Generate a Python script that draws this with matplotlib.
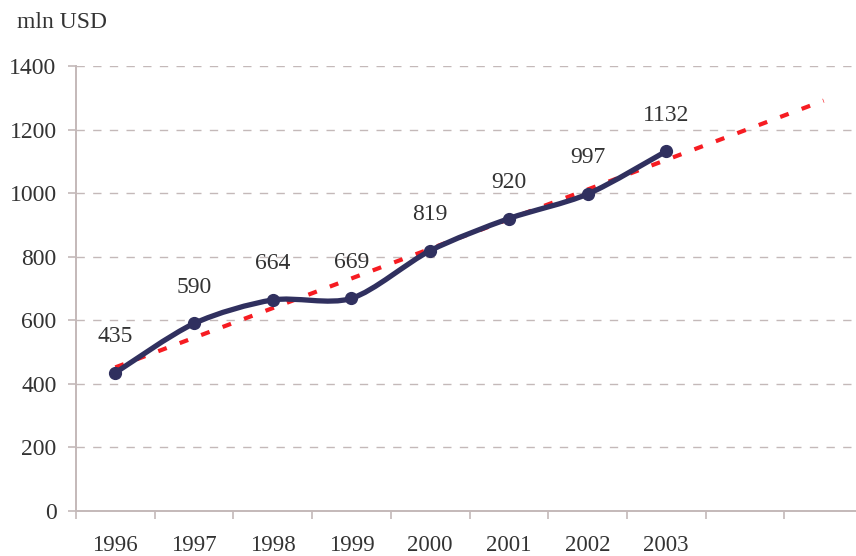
import numpy as np
import matplotlib
matplotlib.use('Agg')
import matplotlib.pyplot as plt
from matplotlib.path import Path
from matplotlib.patches import PathPatch
from matplotlib.ticker import FixedLocator, NullFormatter

years = ["1996", "1997", "1998", "1999", "2000", "2001", "2002", "2003"]
values = [435, 590, 664, 669, 819, 920, 997, 1132]
forecast_periods = 2  # trend goes on for two more (unlabelled) categories
y_ticks = [0, 200, 400, 600, 800, 1000, 1200, 1400]
unit_label = "mln USD"

navy = "#30305f"
red = "#f61c22"
grid_col = "#c4b9b9"
text_col = "#333333"

plt.rcParams['font.family'] = ['Liberation Serif', 'DejaVu Serif']
plt.rcParams['lines.scale_dashes'] = False

fig = plt.figure(figsize=(8.56, 5.56), dpi=100)
ax = fig.add_axes([76 / 856, 45 / 556, 787 / 856, 445 / 556])

n_cat = len(years) + forecast_periods
x = np.arange(len(years))

# linear trend line (like the spreadsheet trendline), extended forward
slope, icpt = np.polyfit(x, values, 1)
xt = np.arange(n_cat)
ax.plot([xt[0], xt[-1]], [icpt, icpt + slope * xt[-1]], color=red, lw=3.0,
        dashes=(6.5, 10.0), solid_capstyle='butt', dash_capstyle='butt', zorder=3)

# smoothed series line (bezier through the points)
pts = np.column_stack([x, values]).astype(float)
verts = [pts[0]]
codes = [Path.MOVETO]
for i in range(len(pts) - 1):
    p_prev = pts[max(i - 1, 0)]
    p0 = pts[i]
    p1 = pts[i + 1]
    p_next = pts[min(i + 2, len(pts) - 1)]
    c1 = p0 + (p1 - p_prev) / 7
    c2 = p1 - (p_next - p0) / 7
    verts += [c1, c2, p1]
    codes += [Path.CURVE4] * 3
ax.add_patch(PathPatch(Path(verts, codes), facecolor='none', edgecolor=navy,
                       lw=3.8, capstyle='round', joinstyle='round', zorder=4))
ax.plot(x, values, 'o', color=navy, ms=8.5, zorder=5)

for xi, v in zip(x, values):
    ax.annotate(str(v), (xi, v), xytext=(0, 26), textcoords='offset points',
                ha='center', va='center', fontsize=17, color=text_col)

ax.set_xlim(-0.5, n_cat - 0.5)
ax.set_ylim(0, 1400)
ax.set_yticks(y_ticks)
ax.set_yticklabels([str(t) for t in y_ticks])
ax.yaxis.grid(True, color=grid_col, lw=1.0, dashes=(6, 6))
ax.set_axisbelow(True)

ax.set_xticks(x)
ax.set_xticklabels(years)
ax.xaxis.set_minor_locator(FixedLocator(np.arange(n_cat + 1) - 0.5))
ax.xaxis.set_minor_formatter(NullFormatter())
ax.tick_params(axis='x', which='major', length=0, pad=17, labelsize=16.5, labelcolor=text_col)
ax.tick_params(axis='x', which='minor', length=6, width=1.2, color=grid_col, direction='out')
ax.tick_params(axis='y', length=6, width=1.2, color=grid_col, direction='out',
               pad=8, labelsize=17, labelcolor=text_col)

for s in ['top', 'right']:
    ax.spines[s].set_visible(False)
for s in ['left', 'bottom']:
    ax.spines[s].set_color(grid_col)
    ax.spines[s].set_linewidth(1.4)

fig.text(17 / 856, 1 - 22 / 556, unit_label, ha='left', va='center',
         fontsize=17, color=text_col)

fig.savefig("out.png", dpi=100)
